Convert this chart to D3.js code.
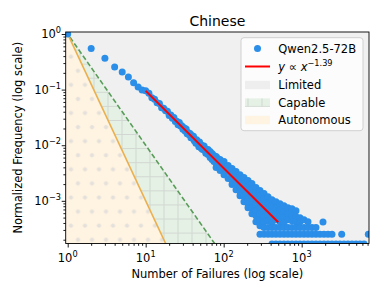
<!DOCTYPE html>
<html>
<head>
<meta charset="utf-8">
<script src="https://cdnjs.cloudflare.com/ajax/libs/d3/7.8.5/d3.min.js"></script>
<style>
body { margin: 0; background: #fff; }
svg { display: block; font-family: "DejaVu Sans", sans-serif; }
</style>
</head>
<body>
<svg id="chart" width="382" height="297"></svg>
<script>
// head of the distribution, one point per failure count
const headFailures = [1, 2, 3, 4, 5, 6, 7, 8, 9];
const headFreq = [1, 0.55, 0.365, 0.254, 0.207, 0.168, 0.133, 0.111, 0.098];

// x = 10..60
const bandFailures = [10, 11, 12, 13, 14, 15, 16, 17, 18, 19, 20,
  21, 22, 23, 24, 25, 26, 27, 28, 29, 30,
  31, 32, 33, 34, 35, 36, 37, 38, 39, 40,
  41, 42, 43, 44, 45, 46, 47, 48, 49, 50,
  51, 52, 53, 54, 55, 56, 57, 58, 59, 60];
const bandFreq = [0.095, 0.0857, 0.0715, 0.0671, 0.0582, 0.0562, 0.0474, 0.0463, 0.0415, 0.0408, 0.0344,
  0.0348, 0.0307, 0.0316, 0.0267, 0.0271, 0.0233, 0.0255, 0.0222, 0.0223, 0.0194,
  0.0207, 0.0181, 0.0195, 0.0161, 0.0170, 0.0155, 0.0163, 0.0136, 0.0149, 0.0134,
  0.01455, 0.0120, 0.01263, 0.0109, 0.01252, 0.01081, 0.01137, 0.00943, 0.01146, 0.0097,
  0.00903, 0.0101, 0.0085, 0.00928, 0.00835, 0.0097, 0.0082, 0.00875, 0.00717, 0.0081];

// wider scatter further out: several frequencies share roughly the same x
const spreadFailures = [63, 67, 71, 75, 80, 84, 90, 95, 101, 114, 128, 144, 162, 182, 205, 230,
  259, 292, 329, 370, 416, 468, 527, 593, 667, 751, 845, 951, 1070, 1204, 1355, 1525, 1876];
const spreadFreq = [
  [8.37e-3, 6.79e-3], [7.71e-3, 6.0e-3], [7.08e-3, 5.52e-3], [6.52e-3, 5.08e-3],
  [6.25e-3, 4.68e-3, 3.97e-3], [5.75e-3, 4.31e-3], [5.52e-3, 4.13e-3, 3.5e-3], [4.88e-3, 3.65e-3],
  [5.08e-3, 3.97e-3, 2.96e-3], [4.31e-3, 3.36e-3, 2.51e-3], [3.8e-3, 2.96e-3, 2.31e-3, 1.96e-3],
  [3.36e-3, 2.62e-3, 2.04e-3, 1.59e-3], [2.96e-3, 2.31e-3, 1.8e-3, 1.47e-3, 1.24e-3],
  [2.62e-3, 2.04e-3, 1.59e-3, 1.24e-3, 9.68e-4], [2.31e-3, 1.8e-3, 1.41e-3, 1.1e-3, 8.91e-4, 7.55e-4],
  [2.04e-3, 1.59e-3, 1.24e-3, 9.68e-4, 7.55e-4, 5.88e-4],
  [1.73e-3, 1.41e-3, 1.1e-3, 8.55e-4, 6.66e-4, 5.41e-4, 4.22e-4],
  [1.53e-3, 1.24e-3, 9.68e-4, 7.55e-4, 5.88e-4, 4.58e-4, 3.57e-4],
  [1.35e-3, 1.1e-3, 8.55e-4, 6.66e-4, 5.19e-4, 4.22e-4, 3.33e-4],
  [1.19e-3, 9.29e-4, 7.24e-4, 5.64e-4, 4.4e-4, 3.33e-4],
  [1.05e-3, 8.2e-4, 6.39e-4, 4.98e-4, 4.05e-4, 3.33e-4],
  [9.68e-4, 7.55e-4, 5.88e-4, 4.58e-4, 3.33e-4],
  [8.91e-4, 6.94e-4, 5.41e-4, 4.22e-4, 3.33e-4],
  [8.2e-4, 6.39e-4, 4.98e-4, 4.05e-4, 3.33e-4],
  [7.55e-4, 5.88e-4, 4.58e-4, 3.33e-4],
  [7.24e-4, 5.64e-4, 4.4e-4, 3.33e-4],
  [6.66e-4, 5.19e-4, 4.22e-4, 3.33e-4],
  [4.98e-4, 4.22e-4, 3.33e-4], [4.58e-4, 3.33e-4], [4.22e-4, 3.33e-4],
  [3.33e-4], [3.33e-4], [4.17e-4]];

// the low-count floor rows (3 and 2 occurrences)
const row3Failures = [292, 329, 370, 416, 468, 527, 593, 667, 751, 845, 951, 1070, 1204, 1355,
  1525, 1717, 1932, 2174, 2446, 3258, 7150];
const row3Freq = 2.5e-4;
const row2Failures = [416, 468, 527, 593, 667, 751, 845, 951, 1070, 1204, 1355, 1525, 1717,
  1932, 2174, 2446, 2753, 3098, 3486, 3923, 4415, 4968, 5591, 6292];
const row2Freq = 1.667e-4;

// power-law fit
const fitRange = [10, 500];
const fitCoef = 2.33;
const fitExp = -1.39;

// regime boundaries y = x^-a
const regimes = [
  { name: "Capable", exp: 2, fill: "#e4f1e4", line: "#5a9c5a", dash: "5,2.5", hatch: "url(#grid)" },
  { name: "Autonomous", exp: 3, fill: "#fff3e1", line: "#eab04f", dash: null, hatch: "url(#dots)" }
];

const legendItems = ["Qwen2.5-72B", "fit", "Limited", "Capable", "Autonomous"];
const xTicks = [1, 10, 100, 1000];
const yTicks = [1, 0.1, 0.01, 0.001];

const svg = d3.select("#chart");
const L = 65.7, R = 369, T = 32, B = 243.5;
const blue = "#2b8ee8";
const dotR = 3.5;

const x = d3.scaleLog().domain([0.943, 7295]).range([L, R]);
const y = d3.scaleLog().domain([1.71e-4, 1.086]).range([B, T]);

const defs = svg.append("defs");
defs.append("clipPath").attr("id", "plotclip")
  .append("rect").attr("x", L).attr("y", T).attr("width", R - L).attr("height", B - T);

const dots = defs.append("pattern").attr("id", "dots")
  .attr("patternUnits", "userSpaceOnUse")
  .attr("width", 14).attr("height", 28.16).attr("x", 67.5).attr("y", 194);
[[3.5, 3.5], [10.5, 17.58]].forEach(p => {
  dots.append("circle").attr("cx", p[0]).attr("cy", p[1]).attr("r", 1.6)
    .attr("fill", "#e6e2dc").attr("stroke", "#d8d8d8").attr("stroke-width", 0.7);
});
const grid = defs.append("pattern").attr("id", "grid")
  .attr("patternUnits", "userSpaceOnUse")
  .attr("width", 14).attr("height", 14.08).attr("x", 65.5).attr("y", 35.5);
grid.append("path").attr("d", "M0.5,0V14.08M0,0.5H14")
  .attr("stroke", "#d2d6d2").attr("stroke-width", 1).attr("fill", "none");

const plot = svg.append("g").attr("clip-path", "url(#plotclip)");

// Limited everywhere
plot.append("rect").attr("x", L).attr("y", T).attr("width", R - L).attr("height", B - T)
  .attr("fill", "#f0f0f0");

const xd = x.domain();
const yd = y.domain();
regimes.forEach(r => {
  const pts = [[xd[0], Math.pow(xd[0], -r.exp)], [xd[1], Math.pow(xd[1], -r.exp)],
               [xd[1], yd[0] / 10], [xd[0], yd[0] / 10]];
  const poly = pts.map(p => [x(p[0]), y(p[1])].join(",")).join(" ");
  plot.append("polygon").attr("points", poly).attr("fill", r.fill);
  plot.append("polygon").attr("points", poly).attr("fill", r.hatch);
});
regimes.forEach(r => {
  plot.append("path")
    .attr("d", d3.line()([[x(xd[0]), y(Math.pow(xd[0], -r.exp))], [x(xd[1]), y(Math.pow(xd[1], -r.exp))]]))
    .attr("stroke", r.line).attr("stroke-width", 1.6).attr("fill", "none")
    .attr("stroke-dasharray", r.dash);
});

// scatter
const points = [];
headFailures.forEach((f, i) => points.push([f, headFreq[i]]));
bandFailures.forEach((f, i) => points.push([f, bandFreq[i]]));
spreadFailures.forEach((f, i) => spreadFreq[i].forEach(v => points.push([f, v])));
row3Failures.forEach(f => points.push([f, row3Freq]));
row2Failures.forEach(f => points.push([f, row2Freq]));

plot.selectAll("circle.pt").data(points).enter().append("circle")
  .attr("class", "pt")
  .attr("cx", d => x(d[0])).attr("cy", d => y(d[1])).attr("r", dotR)
  .attr("fill", blue);

// fit line
plot.append("path")
  .attr("d", d3.line()(fitRange.map(v => [x(v), y(fitCoef * Math.pow(v, fitExp))])))
  .attr("stroke", "#ff0000").attr("stroke-width", 2).attr("fill", "none");

// axes
function minorTicks(lo, hi) {
  const out = [];
  for (let e = -5; e <= 4; e++) {
    for (let m = 2; m <= 9; m++) {
      const v = m * Math.pow(10, e);
      if (v > lo && v < hi) out.push(v);
    }
  }
  return out;
}
function supLabel(text, exp) {
  text.text(null);
  text.append("tspan").text("10");
  text.append("tspan").attr("dy", -5).attr("font-size", "8.2px").text(exp);
}

svg.append("g").attr("transform", `translate(0,${B})`)
  .call(d3.axisBottom(x).tickValues(xTicks).tickSize(4).tickFormat(""));
svg.append("g").attr("transform", `translate(0,${B})`)
  .call(d3.axisBottom(x).tickValues(minorTicks(xd[0], xd[1])).tickSize(2.3).tickFormat(""));
svg.append("g").attr("transform", `translate(${L},0)`)
  .call(d3.axisLeft(y).tickValues(yTicks).tickSize(4).tickFormat(""));
svg.append("g").attr("transform", `translate(${L},0)`)
  .call(d3.axisLeft(y).tickValues(minorTicks(yd[0], yd[1])).tickSize(2.3).tickFormat(""));
svg.selectAll(".domain").remove();
svg.selectAll(".tick line").attr("stroke", "#000").attr("stroke-width", 0.9);

xTicks.forEach(v => {
  const t = svg.append("text").attr("x", x(v)).attr("y", 262)
    .attr("text-anchor", "middle").attr("font-size", "11.5px").attr("fill", "#000");
  supLabel(t, String(Math.round(Math.log10(v))).replace("-", "\u2212"));
});
yTicks.forEach(v => {
  const t = svg.append("text").attr("x", 61).attr("y", y(v) + 4)
    .attr("text-anchor", "end").attr("font-size", "11.5px").attr("fill", "#000");
  supLabel(t, String(Math.round(Math.log10(v))).replace("-", "\u2212"));
});

// frame
svg.append("rect").attr("x", L).attr("y", T).attr("width", R - L).attr("height", B - T)
  .attr("fill", "none").attr("stroke", "#000").attr("stroke-width", 0.9);

// labels
svg.append("text").attr("x", (L + R) / 2).attr("y", 25.5).attr("text-anchor", "middle")
  .attr("font-size", "14px").text("Chinese");
svg.append("text").attr("x", (L + R) / 2).attr("y", 278).attr("text-anchor", "middle")
  .attr("font-size", "11.5px").text("Number of Failures (log scale)");
svg.append("text").attr("transform", `translate(22,${(T + B) / 2}) rotate(-90)`)
  .attr("text-anchor", "middle").attr("font-size", "11.5px")
  .text("Normalized Frequency (log scale)");

// legend
const lg = svg.append("g");
lg.append("rect").attr("x", 241).attr("y", 37.7).attr("width", 122).attr("height", 93).attr("rx", 3)
  .attr("fill", "#fff").attr("fill-opacity", 0.8).attr("stroke", "#cccccc").attr("stroke-width", 0.9);
const rowY = [48.5, 66.5, 85, 102.6, 120];
const lx = 278.3;
lg.append("circle").attr("cx", 257.5).attr("cy", rowY[0]).attr("r", dotR).attr("fill", blue);
lg.append("text").attr("x", lx).attr("y", rowY[0] + 4.2).attr("font-size", "11.5px").text(legendItems[0]);
lg.append("line").attr("x1", 245).attr("x2", 270).attr("y1", rowY[1]).attr("y2", rowY[1])
  .attr("stroke", "#ff0000").attr("stroke-width", 2);
const ft = lg.append("text").attr("x", lx).attr("y", rowY[1] + 4.2).attr("font-size", "11.5px");
ft.append("tspan").attr("font-style", "italic").text("y");
ft.append("tspan").text(" \u221D ");
ft.append("tspan").attr("font-style", "italic").text("x");
ft.append("tspan").attr("dy", -5).attr("font-size", "8.2px").text("\u2212" + Math.abs(fitExp).toFixed(2));
const patches = [
  { fill: "#eeeeee", hatch: null },
  { fill: regimes[0].fill, hatch: regimes[0].hatch },
  { fill: regimes[1].fill, hatch: null }
];
patches.forEach((p, i) => {
  const yy = rowY[i + 2];
  lg.append("rect").attr("x", 245).attr("y", yy - 4.2).attr("width", 25).attr("height", 8.4)
    .attr("fill", p.fill);
  if (p.hatch) lg.append("rect").attr("x", 245).attr("y", yy - 4.2).attr("width", 25).attr("height", 8.4)
    .attr("fill", p.hatch);
  lg.append("text").attr("x", lx).attr("y", yy + 4.2).attr("font-size", "11.5px").text(legendItems[i + 2]);
});
</script>
</body>
</html>
